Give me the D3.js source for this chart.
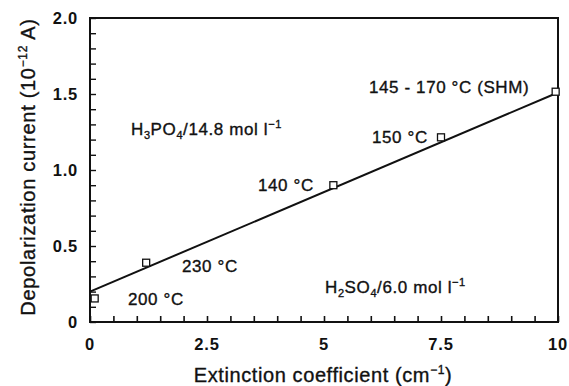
<!DOCTYPE html>
<html><head><meta charset="utf-8">
<script src="https://cdn.jsdelivr.net/npm/d3@7"></script>
<style>
body{margin:0;background:#fff;}
text{font-family:"Liberation Sans",Arial,Helvetica,sans-serif;fill:#111;}
text.w{stroke:#111;stroke-width:0.35;}
</style></head>
<body><svg id="c" width="569" height="386"></svg>
<script>
const xValues = [0.1, 1.2, 5.2, 7.5, 9.95];
const yValues = [0.155, 0.39, 0.9, 1.215, 1.515];
const pointLabels = ["200 °C", "230 °C", "140 °C", "150 °C", "145 - 170 °C (SHM)"];
const fitX = [0, 10];
const fitY = [0.2, 1.51];
const xTicks = [0, 2.5, 5, 7.5, 10];
const xTickLabels = ["0", "2.5", "5", "7.5", "10"];
const yTicks = [0, 0.5, 1.0, 1.5, 2.0];
const yTickLabels = ["0", "0.5", "1.0", "1.5", "2.0"];

const svg = d3.select("#c");
const L = 90, R = 558, T = 18, B = 322;
const x = d3.scaleLinear().domain([0, 10]).range([L, R]);
const y = d3.scaleLinear().domain([0, 2]).range([B, T]);

// frame
svg.append("rect").attr("x", L).attr("y", T).attr("width", R - L).attr("height", B - T)
  .attr("fill", "none").attr("stroke", "#111").attr("stroke-width", 2);

// bottom axis: minor ticks inward every 0.5
const xAx = d3.axisBottom(x).tickValues(d3.range(0, 10.01, 0.5)).tickSizeInner(-6).tickSizeOuter(0).tickFormat("");
svg.append("g").attr("transform", `translate(0,${B})`).call(xAx)
  .call(g => { g.select(".domain").remove(); g.selectAll("line").attr("stroke", "#111").attr("stroke-width", 1.6); });
svg.append("g").selectAll("text").data(xTicks).join("text")
  .attr("x", d => x(d)).attr("y", 350).attr("text-anchor", "middle")
  .attr("font-size", 16.5).attr("font-weight", "bold").attr("letter-spacing", 0.8).text((d, i) => xTickLabels[i]);

// left axis ticks every 0.1
const yAx = d3.axisLeft(y).tickValues(d3.range(0, 2.001, 0.1)).tickSizeInner(-6).tickSizeOuter(0).tickFormat("");
svg.append("g").attr("transform", `translate(${L},0)`).call(yAx)
  .call(g => { g.select(".domain").remove(); g.selectAll("line").attr("stroke", "#111").attr("stroke-width", 1.4); });
svg.append("g").selectAll("text").data(yTicks).join("text")
  .attr("x", 78).attr("y", d => y(d) + 6).attr("text-anchor", "end")
  .attr("font-size", 16.5).attr("font-weight", "bold").attr("letter-spacing", 0.8).text((d, i) => yTickLabels[i]);

// fit line
const line = d3.line().x(d => x(d[0])).y(d => y(d[1]));
svg.append("path").datum(fitX.map((v, i) => [v, fitY[i]])).attr("d", line)
  .attr("fill", "none").attr("stroke", "#111").attr("stroke-width", 2);

// markers
svg.append("g").selectAll("rect").data(xValues).join("rect")
  .attr("x", (d) => x(d) - 3.5).attr("y", (d, i) => y(yValues[i]) - 3.5)
  .attr("width", 7).attr("height", 7).attr("fill", "#fff").attr("stroke", "#111").attr("stroke-width", 1.3);

// point labels
const labelPos = [[128, 305], [182, 272], [258, 191], [372, 143], [369, 93]];
svg.append("g").selectAll("text").data(pointLabels).join("text").attr("class", "w")
  .attr("x", (d, i) => labelPos[i][0]).attr("y", (d, i) => labelPos[i][1])
  .attr("font-size", 17).attr("letter-spacing", 0.6).text(d => d);

// solution labels
function chem(xp, yp, parts) {
  const t = svg.append("text").attr("class", "w").attr("x", xp).attr("y", yp).attr("font-size", 17).attr("letter-spacing", 0.6);
  parts.forEach(p => {
    const ts = t.append("tspan").text(p[0]);
    if (p[1] === "sub") ts.attr("font-size", 11).attr("dy", 4);
    else if (p[1] === "sup") ts.attr("font-size", 11).attr("dy", -7);
    else if (p[1] === "back") ts.attr("dy", -4);
  });
}
chem(131, 135, [["H"], ["3", "sub"], ["PO", "back"], ["4", "sub"], ["/14.8 mol l", "back"], ["−1", "sup"]]);
chem(325, 293, [["H"], ["2", "sub"], ["SO", "back"], ["4", "sub"], ["/6.0 mol l", "back"], ["−1", "sup"]]);

// axis titles
const xt = svg.append("text").attr("class", "w").attr("x", 323).attr("y", 382).attr("text-anchor", "middle")
  .attr("font-size", 20).attr("letter-spacing", 0.6);
xt.append("tspan").text("Extinction coefficient (cm");
xt.append("tspan").text("−1").attr("font-size", 12).attr("dy", -8);
xt.append("tspan").text(")").attr("dy", 8);

const yt = svg.append("text").attr("class", "w").attr("transform", "translate(35,167) rotate(-90)").attr("text-anchor", "middle")
  .attr("font-size", 20).attr("letter-spacing", 0.7);
yt.append("tspan").text("Depolarization current (10");
yt.append("tspan").text("−12").attr("font-size", 12).attr("dy", -8);
yt.append("tspan").text(" A)").attr("dy", 8);
</script></body></html>
